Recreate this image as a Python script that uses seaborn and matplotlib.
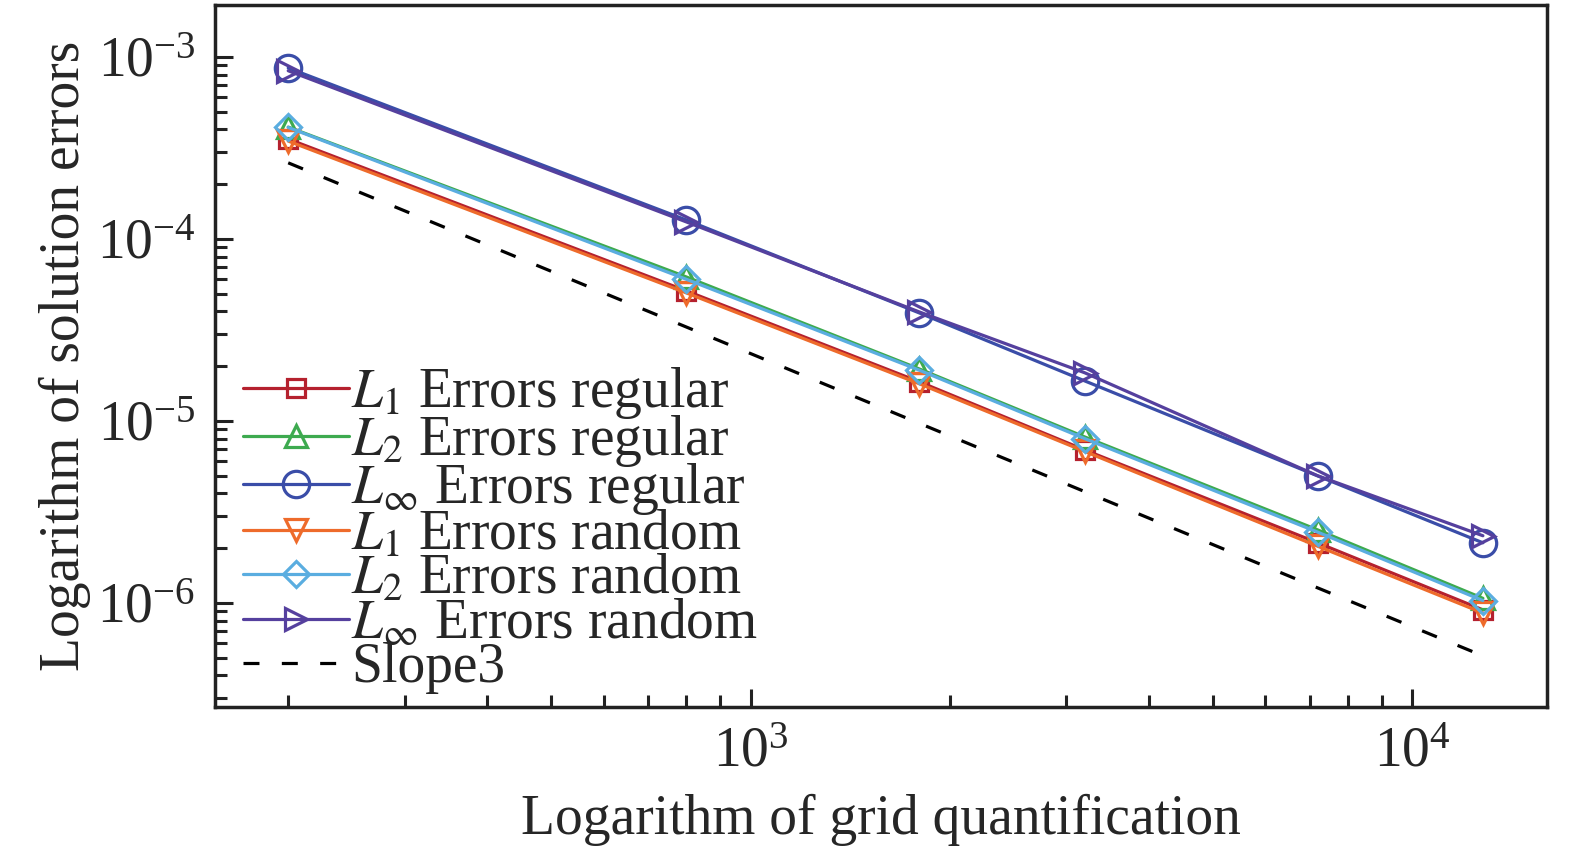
import numpy as np
import pandas as pd
import seaborn as sns
import matplotlib
matplotlib.use("Agg")
import matplotlib.pyplot as plt

# grid sizes (number of points)
grid_n = [200, 800, 1800, 3200, 7200, 12800]

# errors, regular grids
l1_regular = [3.54e-4, 5.18e-5, 1.64e-5, 6.93e-6, 2.14e-6, 9.16e-7]
l2_regular = [4.12e-4, 6.18e-5, 1.93e-5, 8.17e-6, 2.52e-6, 1.06e-6]
linf_regular = [8.7e-4, 1.27e-4, 3.92e-5, 1.66e-5, 4.99e-6, 2.14e-6]

# errors, random grids
l1_random = [3.45e-4, 5.05e-5, 1.60e-5, 6.80e-6, 2.05e-6, 8.8e-7]
l2_random = [4.10e-4, 6.00e-5, 1.90e-5, 8.00e-6, 2.45e-6, 1.03e-6]
linf_random = [8.4e-4, 1.24e-4, 3.97e-5, 1.84e-5, 5.0e-6, 2.34e-6]

# reference slope line
slope3 = [2.62e-4, 3.28e-5, 9.7e-6, 4.09e-6, 1.21e-6, 5.12e-7]

sns.set_style("ticks")
plt.rcParams['font.family'] = ['Liberation Serif', 'DejaVu Serif']
plt.rcParams['mathtext.fontset'] = 'stix'
plt.rcParams['font.size'] = 40

fig = plt.figure(figsize=(15.75, 8.58), dpi=100)
ax = fig.add_subplot(111)
fig.subplots_adjust(left=215/1575, right=1547/1575, bottom=1-707/858, top=1-5/858)

series = [
    (l1_regular, r"$L_1$ Errors regular", "#B5212E", "s", 13),
    (l2_regular, r"$L_2$ Errors regular", "#3DAA4F", "^", 16),
    (linf_regular, r"$L_\infty$ Errors regular", "#3A4DA8", "o", 19),
    (l1_random, r"$L_1$ Errors random", "#EE6B2B", "v", 16),
    (l2_random, r"$L_2$ Errors random", "#5AADE0", "D", 13),
    (linf_random, r"$L_\infty$ Errors random", "#55409E", ">", 16),
]

for vals, lab, col, mk, ms in series:
    sns.lineplot(x=grid_n, y=vals, ax=ax, color=col, marker=mk, markersize=ms,
                 markerfacecolor='none', markeredgecolor=col, markeredgewidth=2.3,
                 linewidth=2.3, label=lab)

sns.lineplot(x=grid_n, y=slope3, ax=ax, color='black', linewidth=2.3,
             linestyle=(0, (5, 7)), label="Slope3")

ax.set_xscale('log')
ax.set_yscale('log')
ax.set_xlim(155, 16000)
ax.set_ylim(2.68e-7, 1.93e-3)

ax.set_xlabel("Logarithm of grid quantification", fontsize=40, labelpad=11)
ax.set_ylabel("Logarithm of solution errors", fontsize=40)

ax.tick_params(which='both', direction='in', top=False, right=False, width=2.2,
               labelsize=40, pad=14, color='#222222')
ax.tick_params(which='major', length=13)
ax.tick_params(which='minor', length=8.5)
for sp in ax.spines.values():
    sp.set_linewidth(2.5)
    sp.set_color('#222222')

ax.legend(loc='lower left', bbox_to_anchor=(0.021, 0.018), frameon=False,
          fontsize=40, handlelength=1.9, handletextpad=0.05, labelspacing=-0.14,
          borderpad=0, borderaxespad=0)

fig.savefig("out.png", dpi=100)
